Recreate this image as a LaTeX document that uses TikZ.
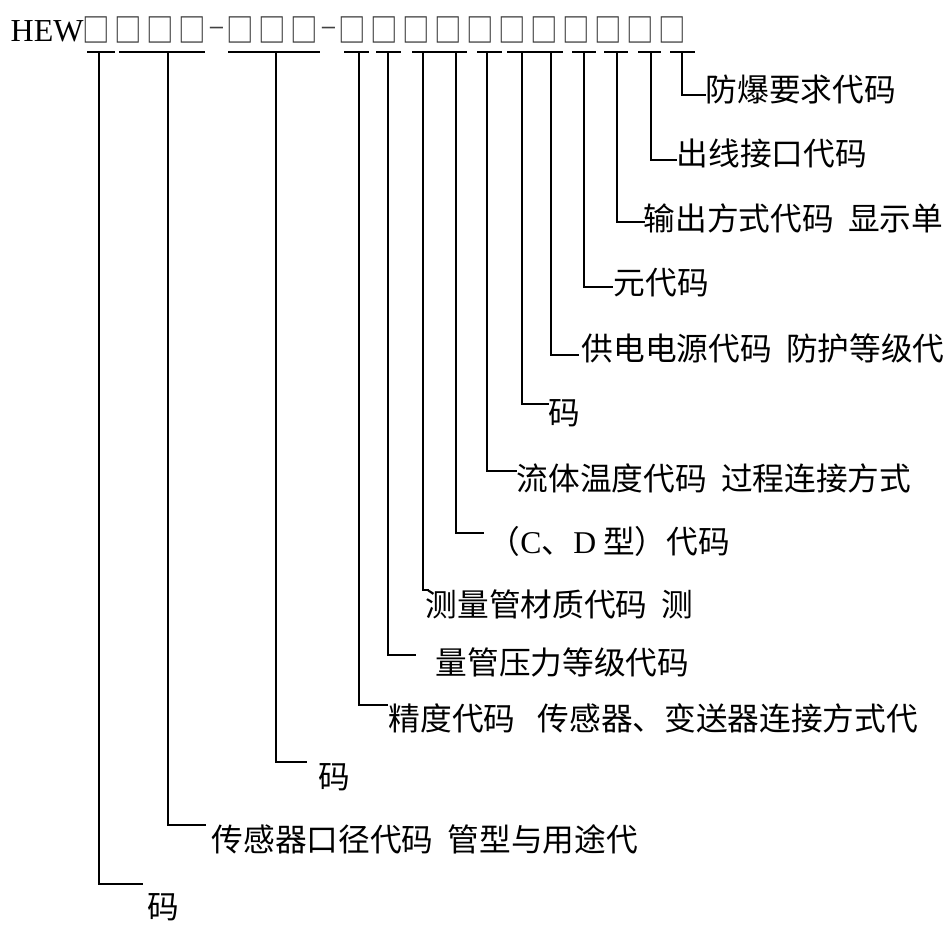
\documentclass[tikz,border=0pt]{standalone}
\usepackage{fontspec}
\setmainfont{Liberation Serif}
\newfontfamily\cjk{Noto Sans CJK SC}
\newfontfamily\tms{Liberation Serif}
\newcommand\bx{\makebox[32pt]{\textcolor{black!80}{\raisebox{-1pt}{\scalebox{1}[1.2]{\cjk\fontsize{27.5pt}{32pt}\selectfont □}}}}}
\newcommand\dsh{\makebox[16pt]{\raisebox{6.5pt}{\textcolor{black!75}{\scalebox{0.8}[1]{–}}}}}
\newcommand\gap{\hspace{0.45em}}
\begin{document}
\begin{tikzpicture}[x=1pt,y=-1pt,
  stem/.style={line width=1.4pt},
  bar/.style={line width=2.4pt},
  lab/.style={anchor=west, inner sep=0pt, font=\cjk\fontsize{31.7pt}{38pt}\selectfont, text height=26.3pt, text depth=2.2pt}]
\useasboundingbox (0,0) rectangle (949,939);
\node[anchor=base west, inner sep=0pt, font=\tms\fontsize{32pt}{36pt}\selectfont] (code) at (10.5,42)
  {HEW\kern-3pt\bx\bx\bx\bx\dsh\bx\bx\bx\dsh\bx\bx\bx\bx\bx\bx\bx\bx\bx\bx\bx};
% bars
\foreach \a/\b [count=\k] in {87/115,119/205,228/320,344/369,376/401,412/467,477/502,507/563,572/596,604/628,638/661,670/695}{
  \coordinate (ba\k) at (\a,52);
  \coordinate (bb\k) at (\b,52);
  \draw[bar] (ba\k) -- (bb\k);
}
% stems, L connectors and labels
\foreach \i/\x/\ly/\ex/\tx/\ty/\t in {
  1/682/95/706/707/89/{防爆要求代码},
  2/651/160/677/678/153/{出线接口代码},
  3/617/222/645/645/218/{输出方式代码\gap 显示单},
  4/584/287/613/615/282/{元代码},
  5/551/355/579/583/348/{供电电源代码\gap 防护等级代},
  6/522/404/549/550/412/{码},
  7/487/471/517/518/478/{流体温度代码\gap 过程连接方式},
  8/456/533/484/490/541/{（{\tms C}、{\tms D} 型）代码},
  9/423/590/429/427/604/{测量管材质代码\gap 测},
  10/388/655/416/437/662/{量管压力等级代码},
  11/359/705/388/390/718/{精度代码\hspace{0.7em}传感器、变送器连接方式代},
  12/276/762/307/320/776/{码},
  13/168/825/206/213/839/{传感器口径代码\gap 管型与用途代},
  14/99/884/143/149/906/{码}}{
  \coordinate (s\i) at (\x,52);
  \coordinate (e\i) at (\ex,\ly);
  \node[lab] (l\i) at ({\tx-1.5},\ty) {\t};
  \draw[stem] (s\i) |- (e\i);
}
\end{tikzpicture}
\end{document}
